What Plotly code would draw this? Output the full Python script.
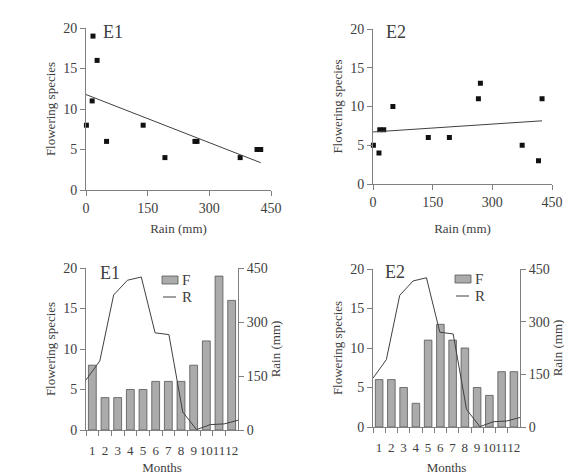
import numpy as np
import plotly.graph_objects as go

months = ["1", "2", "3", "4", "5", "6", "7", "8", "9", "10", "11", "12"]
month_num = [1, 2, 3, 4, 5, 6, 7, 8, 9, 10, 11, 12]
rain = [139, 192, 375, 416, 425, 270, 265, 50, 1, 15, 17, 27]
flowering_e1 = [8, 4, 4, 5, 5, 6, 6, 6, 8, 11, 19, 16]
flowering_e2 = [6, 6, 5, 3, 11, 13, 11, 10, 5, 4, 7, 7]
rain_ticks = [0, 150, 300, 450]
species_ticks = [0, 5, 10, 15, 20]
legend_labels = ["F", "R"]

FONT = "Liberation Serif"
TXT = "#404040"
AX = "#808080"
BAR_FILL = "#ababab"
BAR_LINE = "#555555"
LINE_COL = "#404040"
OFF = 8                      # page body margin
W, H = 572 - OFF, 475 - OFF  # figure size fits the window


def fx(p):
    return (p - OFF) / W


def fy(p):
    return 1 - (p - OFF) / H


def px_x(a, b):
    return [fx(a), fx(b)]


def px_y(top, bottom):
    return [fy(bottom), fy(top)]


fig = go.Figure()


def trend(xs, ys):
    k, b = np.polyfit(xs, ys, 1)
    x0, x1 = 0, max(xs)
    return [x0, x1], [b + k * x0, b + k * x1]


# scatter panels
for ys, xa, ya in [(flowering_e1, "x", "y"), (flowering_e2, "x2", "y2")]:
    fig.add_trace(go.Scatter(x=rain, y=ys, mode="markers", xaxis=xa, yaxis=ya,
                             marker=dict(symbol="square", size=5, color="#111"),
                             cliponaxis=False, showlegend=False))
    tx, ty = trend(rain, ys)
    fig.add_trace(go.Scatter(x=tx, y=ty, mode="lines", xaxis=xa, yaxis=ya,
                             line=dict(color=LINE_COL, width=1), showlegend=False))

# bar + line panels
for ys, xb, yb, xl, yl in [(flowering_e1, "x3", "y3", "x4", "y4"),
                           (flowering_e2, "x5", "y5", "x6", "y6")]:
    fig.add_trace(go.Bar(x=months, y=ys, xaxis=xb, yaxis=yb, name=legend_labels[0],
                         marker=dict(color=BAR_FILL, line=dict(color=BAR_LINE, width=0.8)),
                         width=0.62, showlegend=False))
    fig.add_trace(go.Scatter(x=month_num, y=rain, mode="lines", xaxis=xl, yaxis=yl,
                             name=legend_labels[1],
                             line=dict(color=LINE_COL, width=1), showlegend=False,
                             cliponaxis=False))

tickfont = dict(family=FONT, size=14, color=TXT)
monthfont = dict(family=FONT, size=13, color=TXT)
titlefont = dict(family=FONT, size=13, color=TXT)
base = dict(showline=True, linecolor=AX, linewidth=1, ticks="outside", ticklen=5,
            tickcolor=AX, showgrid=False, zeroline=False)
common = dict(base, tickfont=tickfont)
monthax = dict(base, tickfont=monthfont, type="category", tickson="boundaries",
               tickangle=0, tickmode="array", tickvals=months, ticktext=months,
               ticklabelstandoff=8)

fig.update_layout(
    width=W, height=H, margin=dict(l=0, r=0, t=0, b=0, autoexpand=False),
    paper_bgcolor="white", plot_bgcolor="white", showlegend=False,
    font=dict(family=FONT, color=TXT),
    xaxis=dict(domain=px_x(86, 271), anchor="y", range=[0, 450], tickvals=rain_ticks,
               title=dict(text="Rain (mm)", font=titlefont, standoff=9), **common),
    yaxis=dict(domain=px_y(28, 190), anchor="x", range=[0, 20], tickvals=species_ticks,
               title=dict(text="Flowering species", font=titlefont, standoff=4), **common),
    xaxis2=dict(domain=px_x(373, 552), anchor="y2", range=[0, 450], tickvals=rain_ticks,
                title=dict(text="Rain (mm)", font=titlefont, standoff=15), **common),
    yaxis2=dict(domain=px_y(29, 184), anchor="x2", range=[0, 20], tickvals=species_ticks,
                title=dict(text="Flowering species", font=titlefont, standoff=4), **common),
    xaxis3=dict(domain=px_x(86, 238), anchor="y3",
                title=dict(text="Months", font=titlefont, standoff=7), **monthax),
    yaxis3=dict(domain=px_y(268, 430), anchor="x3", range=[0, 20], tickvals=species_ticks,
                title=dict(text="Flowering species", font=titlefont, standoff=4), **common),
    xaxis4=dict(domain=px_x(86, 238), overlaying="x3", anchor="y3", range=[1, 12], visible=False),
    yaxis4=dict(overlaying="y3", side="right", anchor="x3", range=[0, 450], tickvals=rain_ticks,
                title=dict(text="Rain (mm)", font=titlefont, standoff=0), **common),
    xaxis5=dict(domain=px_x(373, 520), anchor="y5",
                title=dict(text="Months", font=titlefont, standoff=9), **monthax),
    yaxis5=dict(domain=px_y(269, 427), anchor="x5", range=[0, 20], tickvals=species_ticks,
                title=dict(text="Flowering species", font=titlefont, standoff=4), **common),
    xaxis6=dict(domain=px_x(373, 520), overlaying="x5", anchor="y5", range=[1, 12], visible=False),
    yaxis6=dict(overlaying="y5", side="right", anchor="x5", range=[0, 450], tickvals=rain_ticks,
                title=dict(text="Rain (mm)", font=titlefont, standoff=0), **common),
    bargap=0.38,
)

# panel labels
for text, x, y in [("E1", 113, 32), ("E2", 396, 32), ("E1", 110, 273), ("E2", 395, 272)]:
    fig.add_annotation(text=text, x=fx(x), y=fy(y), xref="paper", yref="paper",
                       showarrow=False, font=dict(family=FONT, size=18, color=TXT),
                       xanchor="center", yanchor="middle")

# legends (F = bars, R = rain line)
for lx, ly in [(162, 280), (455, 279)]:
    fig.add_shape(type="rect", xref="paper", yref="paper",
                  x0=fx(lx), x1=fx(lx + 16), y0=fy(ly + 4), y1=fy(ly - 4),
                  fillcolor=BAR_FILL, line=dict(color=BAR_LINE, width=0.8))
    fig.add_annotation(text=legend_labels[0], x=fx(lx + 18), y=fy(ly),
                       xref="paper", yref="paper", showarrow=False,
                       font=dict(family=FONT, size=15, color=TXT),
                       xanchor="left", yanchor="middle")
    fig.add_shape(type="line", xref="paper", yref="paper",
                  x0=fx(lx + 1), x1=fx(lx + 14), y0=fy(ly + 17), y1=fy(ly + 17),
                  line=dict(color=LINE_COL, width=1))
    fig.add_annotation(text=legend_labels[1], x=fx(lx + 18), y=fy(ly + 17),
                       xref="paper", yref="paper", showarrow=False,
                       font=dict(family=FONT, size=15, color=TXT),
                       xanchor="left", yanchor="middle")

fig.write_html("out.html")
